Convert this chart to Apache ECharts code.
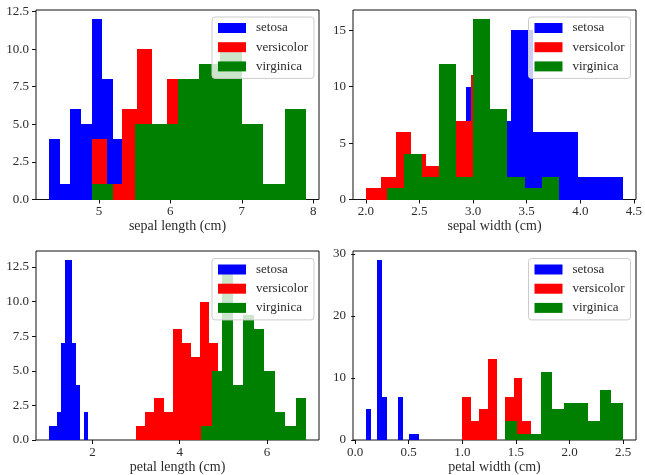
<!DOCTYPE html>
<html>
<head>
<meta charset="utf-8">
<script src="https://cdn.jsdelivr.net/npm/echarts@6/dist/echarts.min.js"></script>
<style>
  html, body { margin: 0; padding: 0; background: #fff; }
  #chart { width: 645px; height: 475px; }
</style>
</head>
<body>
<div id="chart"></div>
<script>
// Iris measurements: per-species histograms (10 bins across each species' own range)
const species = ['setosa', 'versicolor', 'virginica'];
const speciesColors = ['#0000ff', '#ff0000', '#008000'];
const featureNames = ['sepal length (cm)', 'sepal width (cm)', 'petal length (cm)', 'petal width (cm)'];

// [min, max] of each species for the feature (bin range)
const sepalLengthRange = [[4.3, 5.8], [4.9, 7.0], [4.9, 7.9]];
const sepalWidthRange = [[2.3, 4.4], [2.0, 3.4], [2.2, 3.8]];
const petalLengthRange = [[1.0, 1.9], [3.0, 5.1], [4.5, 6.9]];
const petalWidthRange = [[0.1, 0.6], [1.0, 1.8], [1.4, 2.5]];

// counts per bin, one row per species
const sepalLengthCounts = [
  [4, 1, 6, 5, 12, 8, 4, 5, 2, 3],
  [4, 1, 6, 10, 5, 8, 5, 3, 5, 3],
  [1, 0, 5, 5, 8, 9, 10, 5, 1, 6]
];
const sepalWidthCounts = [
  [1, 0, 1, 10, 7, 15, 6, 6, 2, 2],
  [1, 2, 6, 4, 3, 11, 7, 11, 3, 2],
  [1, 4, 2, 12, 2, 16, 8, 2, 1, 2]
];
const petalLengthCounts = [
  [1, 1, 2, 7, 13, 13, 7, 4, 0, 2],
  [1, 2, 3, 2, 8, 7, 6, 10, 7, 4],
  [1, 5, 12, 4, 9, 8, 5, 2, 1, 3]
];
const petalWidthCounts = [
  [5, 0, 29, 7, 0, 0, 7, 0, 1, 1],
  [7, 3, 5, 13, 0, 7, 10, 3, 1, 1],
  [3, 1, 1, 11, 5, 6, 6, 3, 8, 6]
];

// tick labels
const xTicks = [[5, 6, 7, 8], [2.0, 2.5, 3.0, 3.5, 4.0, 4.5], [2, 4, 6], [0.0, 0.5, 1.0, 1.5, 2.0, 2.5]];
const yTicks = [[0, 2.5, 5, 7.5, 10, 12.5], [0, 5, 10, 15], [0, 2.5, 5, 7.5, 10, 12.5], [0, 10, 20, 30]];
const xDecimals = [0, 1, 0, 1];
const yDecimals = [1, 0, 1, 0];

const ranges = [sepalLengthRange, sepalWidthRange, petalLengthRange, petalWidthRange];
const counts = [sepalLengthCounts, sepalWidthCounts, petalLengthCounts, petalWidthCounts];

// axis extents (5% padding around the data like the usual plotting default)
const xExtent = [[4.12, 8.08], [1.88, 4.52], [0.705, 7.195], [-0.02, 2.62]];
const yExtent = [[0, 12.6], [0, 16.8], [0, 13.65], [0, 30.45]];

const FONT = '"Liberation Serif", "DejaVu Serif", serif';
const TEXT = '#2b2b2b';

const grids = [
  { left: 36, top: 10, width: 283, height: 189.5 },
  { left: 353, top: 10, width: 283, height: 189.5 },
  { left: 36, top: 251, width: 283, height: 190 },
  { left: 353, top: 251, width: 283, height: 190 }
];
const legendPos = [
  { left: 212, top: 17 },
  { left: 528.5, top: 17 },
  { left: 212, top: 258.5 },
  { left: 528.5, top: 258.5 }
];

function binData(range, cnt) {
  const lo = range[0], hi = range[1];
  const w = (hi - lo) / cnt.length;
  return cnt.map((c, i) => [lo + i * w, lo + (i + 1) * w, c]);
}

// one histogram bin as a filled rectangle, snapped to whole pixels so neighbours join cleanly
function renderBar(params, api) {
  const h = api.value(2);
  if (!h) return null;
  const p0 = api.coord([api.value(0), h]);
  const p1 = api.coord([api.value(1), 0]);
  const x0 = Math.round(p0[0]), x1 = Math.round(p1[0]);
  const y0 = Math.round(p0[1]), y1 = Math.round(p1[1]);
  return {
    type: 'rect',
    shape: { x: x0, y: y0, width: x1 - x0, height: y1 - y0 },
    style: { fill: api.visual('color') }
  };
}

const option = {
  animation: false,
  backgroundColor: '#ffffff',
  grid: grids.map(g => Object.assign({ show: true, borderColor: '#111', borderWidth: 1, backgroundColor: 'transparent' }, g)),
  xAxis: grids.map((g, k) => ({
    type: 'value',
    gridIndex: k,
    min: xExtent[k][0],
    max: xExtent[k][1],
    name: featureNames[k],
    nameLocation: 'middle',
    nameGap: 20,
    nameTextStyle: { fontFamily: FONT, fontSize: 14, color: TEXT, verticalAlign: 'top' },
    splitLine: { show: false },
    axisLine: { show: false },
    axisTick: { show: true, length: 4, lineStyle: { color: '#111', width: 1 }, customValues: xTicks[k] },
    axisLabel: {
      customValues: xTicks[k],
      margin: 6,
      fontFamily: FONT, fontSize: 13, color: TEXT,
      formatter: v => Number(v).toFixed(xDecimals[k])
    }
  })),
  yAxis: grids.map((g, k) => ({
    type: 'value',
    gridIndex: k,
    min: yExtent[k][0],
    max: yExtent[k][1],
    splitLine: { show: false },
    axisLine: { show: false },
    axisTick: { show: true, length: 4, lineStyle: { color: '#111', width: 1 }, customValues: yTicks[k] },
    axisLabel: {
      customValues: yTicks[k],
      margin: 7,
      fontFamily: FONT, fontSize: 13, color: TEXT,
      formatter: v => Number(v).toFixed(yDecimals[k])
    }
  })),
  legend: legendPos.map(p => ({
    left: p.left,
    top: p.top,
    orient: 'vertical',
    data: species.map(name => ({ name, icon: 'rect' })),
    itemWidth: 28,
    itemHeight: 10,
    itemGap: 5.2,
    padding: [4, 6, 5, 6],
    backgroundColor: 'rgba(255,255,255,0.8)',
    borderColor: '#cccccc',
    borderWidth: 1,
    borderRadius: 3,
    selectedMode: false,
    textStyle: { fontFamily: FONT, fontSize: 13, color: TEXT, lineHeight: 14, padding: [0, 0, 0, 5] }
  })),
  series: []
};

for (let k = 0; k < 4; k++) {
  for (let s = 0; s < species.length; s++) {
    option.series.push({
      type: 'custom',
      name: species[s],
      xAxisIndex: k,
      yAxisIndex: k,
      itemStyle: { color: speciesColors[s] },
      encode: { x: [0, 1], y: 2 },
      renderItem: renderBar,
      data: binData(ranges[k][s], counts[k][s])
    });
  }
}

const chart = echarts.init(document.getElementById('chart'), null, { renderer: 'canvas' });
chart.setOption(option);
</script>
</body>
</html>
